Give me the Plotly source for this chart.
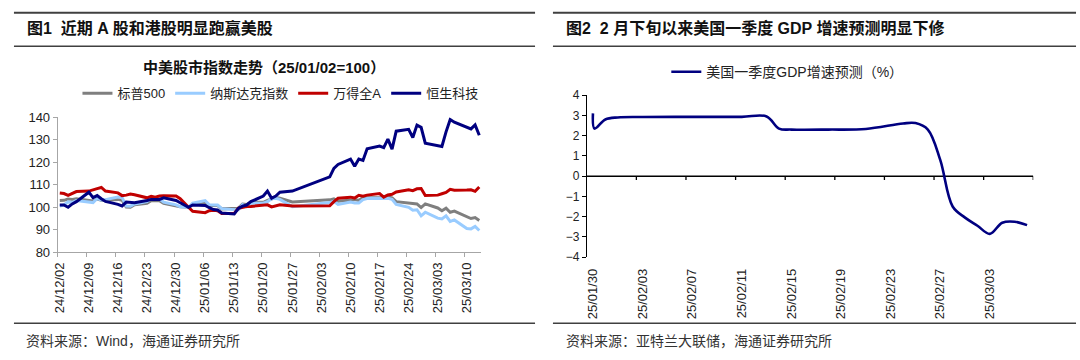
import plotly.graph_objects as go
import pandas as pd

W, H = 1080, 360

# ---------------- data: left chart (A-share trading days) ----------------
trade_dates = [
    "2024-12-02", "2024-12-03", "2024-12-04", "2024-12-05", "2024-12-06",
    "2024-12-09", "2024-12-10", "2024-12-11", "2024-12-12", "2024-12-13",
    "2024-12-16", "2024-12-17", "2024-12-18", "2024-12-19", "2024-12-20",
    "2024-12-23", "2024-12-24", "2024-12-25", "2024-12-26", "2024-12-27",
    "2024-12-30", "2024-12-31",
    "2025-01-02", "2025-01-03", "2025-01-06", "2025-01-07", "2025-01-08",
    "2025-01-09", "2025-01-10", "2025-01-13", "2025-01-14", "2025-01-15",
    "2025-01-16", "2025-01-17", "2025-01-20", "2025-01-21", "2025-01-22",
    "2025-01-23", "2025-01-24", "2025-01-27",
    "2025-02-05", "2025-02-06", "2025-02-07", "2025-02-10", "2025-02-11",
    "2025-02-12", "2025-02-13", "2025-02-14", "2025-02-17", "2025-02-18",
    "2025-02-19", "2025-02-20", "2025-02-21", "2025-02-24", "2025-02-25",
    "2025-02-26", "2025-02-27", "2025-02-28",
    "2025-03-03", "2025-03-04", "2025-03-05", "2025-03-06", "2025-03-07",
    "2025-03-10", "2025-03-11", "2025-03-12", "2025-03-13",
]

spx = [
    103.0, 103.1, 103.7, 103.5, 103.8, 103.1, 102.8, 103.7, 103.1, 103.1,
    103.5, 103.1, 100.1, 100.0, 101.1, 101.8, 102.9, 102.9, 102.9, 101.7,
    100.7, 100.2,
    100.0, 101.3, 101.8, 100.7, 100.8, 100.8, 99.3, 99.4, 99.6, 101.4,
    101.2, 102.2, 102.2, 103.1, 103.7, 104.3, 104.0, 102.4,
    103.3, 103.7, 102.7, 103.4, 103.4, 103.1, 104.2, 104.2, 104.2, 104.4,
    104.7, 104.2, 102.5, 101.9, 101.5, 101.5, 99.9, 101.5,
    99.7, 98.5, 99.6, 97.8, 98.3, 95.7, 95.0, 95.4, 94.1,
]

nasdaq = [
    100.6, 101.0, 102.4, 102.2, 103.0, 102.4, 102.1, 103.9, 103.2, 103.4,
    104.6, 104.3, 100.6, 100.5, 101.5, 102.5, 103.9, 103.9, 103.8, 102.3,
    101.1, 100.2,
    100.0, 101.8, 103.0, 101.1, 101.0, 101.0, 99.4, 99.0, 98.8, 101.2,
    100.3, 101.8, 101.8, 102.5, 103.8, 104.0, 103.5, 100.3,
    102.1, 102.7, 101.3, 102.3, 101.9, 101.9, 103.4, 103.9, 103.9, 103.9,
    104.0, 103.5, 101.3, 100.0, 98.7, 98.9, 96.2, 97.8,
    95.2, 94.8, 96.2, 93.7, 94.4, 90.6, 90.4, 91.5, 89.7,
]

wind_all_a = [
    106.3, 106.1, 105.3, 106.3, 107.0, 107.2, 107.6, 108.3, 108.8, 107.2,
    106.4, 105.2, 105.4, 105.9, 105.6, 104.2, 104.9, 104.5, 105.0, 105.1,
    105.0, 103.8,
    100.0, 98.2, 97.6, 98.5, 98.7, 98.5, 97.2, 97.3, 99.6, 100.0,
    100.3, 100.4, 100.9, 101.1, 100.2, 100.6, 101.1, 100.6,
    100.7, 102.5, 104.0, 104.5, 104.1, 105.3, 104.9, 105.4, 106.1, 104.5,
    105.5, 105.8, 106.8, 107.8, 107.4, 108.2, 108.3, 105.2,
    105.4, 106.0, 106.6, 108.0, 107.6, 107.7, 107.8, 107.1, 109.0,
]

hstech = [
    101.0, 101.0, 100.0, 101.5, 102.5, 106.7, 104.3, 105.2, 103.8, 102.6,
    101.3, 100.6, 102.3, 102.0, 102.0, 103.0, 103.5, 103.5, 103.5, 104.2,
    103.0, 102.0,
    100.0, 101.0, 100.8, 99.8, 99.0, 98.8, 97.5, 97.0, 99.5, 100.5,
    101.0, 102.5, 105.0, 107.2, 104.0, 105.0, 106.7, 107.2,
    113.5, 117.3, 119.0, 121.4, 118.2, 121.4, 120.8, 126.0, 127.2, 126.5,
    130.3, 125.8, 133.8, 134.6, 131.0, 136.5, 135.5, 128.5,
    127.2, 127.0, 133.5, 139.0, 137.8, 135.3, 134.8, 136.6, 132.0,
]

series_names = ["标普500", "纳斯达克指数", "万得全A", "恒生科技"]
left_tick_labels = [
    "24/12/02", "24/12/09", "24/12/16", "24/12/23", "24/12/30",
    "25/01/06", "25/01/13", "25/01/20", "25/01/27", "25/02/03",
    "25/02/10", "25/02/17", "25/02/24", "25/03/03", "25/03/10",
]

# ---------------- data: right chart ----------------
gdp_dates = [
    "2025-01-30 00:00", "2025-01-30 03:00", "2025-01-31", "2025-02-01",
    "2025-02-03", "2025-02-07", "2025-02-11", "2025-02-13", "2025-02-14",
    "2025-02-15", "2025-02-18", "2025-02-21", "2025-02-24", "2025-02-25",
    "2025-02-26", "2025-02-27", "2025-02-28", "2025-03-01", "2025-03-02",
    "2025-03-03", "2025-03-04", "2025-03-05", "2025-03-06",
]
gdp_vals = [
    3.1, 2.35, 2.8, 2.9,
    2.92, 2.93, 2.93, 2.95, 2.35,
    2.3, 2.3, 2.33, 2.6, 2.62,
    2.3, 0.8, -1.5, -2.05, -2.45,
    -2.85, -2.3, -2.25, -2.42,
]
gdp_name = "美国一季度GDP增速预测（%）"
right_tick_labels = [
    "25/01/30", "25/02/03", "25/02/07", "25/02/11", "25/02/15",
    "25/02/19", "25/02/23", "25/02/27", "25/03/03",
]

# ---------------- styling ----------------
FONT = "Liberation Sans, Arial, Noto Sans CJK SC, sans-serif"
TXT = "#222222"
RULE = "#404040"
colors = ["#7F7F7F", "#99CCFF", "#C00000", "#000080"]


def fx(px):
    return px / W


def fy(py):
    return 1 - py / H


half_day = pd.Timedelta(hours=12)
fmt = "%Y-%m-%d %H:%M"
left_tickvals = [
    (pd.to_datetime("20" + t, format="%Y/%m/%d") - half_day).strftime(fmt)
    for t in left_tick_labels
]
left_range = [
    (pd.to_datetime(trade_dates[0]) - half_day).strftime(fmt),
    (pd.to_datetime(trade_dates[-1]) + half_day).strftime(fmt),
]
right_label_pos = [
    pd.to_datetime("20" + t, format="%Y/%m/%d").strftime("%Y-%m-%d") for t in right_tick_labels
]
r_start = pd.to_datetime(right_label_pos[0]) - half_day
r_end = pd.to_datetime(gdp_dates[-1]) + half_day
right_range = [r_start.strftime(fmt), r_end.strftime(fmt)]

left_dom_x = [fx(52), fx(478)]
left_dom_y = [fy(256), fy(115)]
right_dom_x = [fx(584), fx(1033)]
right_dom_y = [fy(261), fy(92)]
y2_range = [-4, 4]
# 4-pixel tick length expressed in y2 units (axis height 169 px)
tick_depth = 4 * (y2_range[1] - y2_range[0]) / 169.0

# category axis on the zero level: line + downward tick marks every 4 days
axis_x, axis_y = [r_start.strftime(fmt), r_end.strftime(fmt), None], [0, 0, None]
t = r_start + pd.Timedelta(days=4)
while t <= r_end:
    axis_x += [t.strftime(fmt), t.strftime(fmt), None]
    axis_y += [0, -tick_depth, None]
    t += pd.Timedelta(days=4)

fig = go.Figure()

for name, vals, col in zip(series_names, [spx, nasdaq, wind_all_a, hstech], colors):
    fig.add_trace(go.Scatter(
        x=trade_dates, y=vals, name=name, mode="lines",
        line=dict(color=col, width=3),
        xaxis="x", yaxis="y", legend="legend",
    ))

fig.add_trace(go.Scatter(
    x=axis_x, y=axis_y, mode="lines", showlegend=False, hoverinfo="skip",
    line=dict(color="#000000", width=1.3), connectgaps=False, cliponaxis=False,
    xaxis="x2", yaxis="y2",
))

fig.add_trace(go.Scatter(
    x=gdp_dates, y=gdp_vals, name=gdp_name, mode="lines",
    line=dict(color="#000080", width=2.6, shape="spline", smoothing=1.0),
    xaxis="x2", yaxis="y2", legend="legend2",
))

fig.update_layout(
    width=W, height=H, autosize=False,
    margin=dict(l=0, r=0, t=0, b=0),
    paper_bgcolor="white", plot_bgcolor="rgba(0,0,0,0)",
    font=dict(family=FONT, size=13, color=TXT),
    showlegend=True,
    xaxis=dict(
        domain=left_dom_x, anchor="y", type="date", range=left_range,
        tickvals=left_tickvals, ticktext=left_tick_labels, tickangle=-90,
        ticklabelshift=2,
        ticks="outside", ticklen=4, tickcolor="#A6A6A6",
        showline=True, linecolor="#A6A6A6", linewidth=1,
        showgrid=False, zeroline=False, tickfont=dict(size=13, color=TXT),
    ),
    yaxis=dict(
        domain=left_dom_y, anchor="x", range=[80, 140], dtick=10,
        ticks="outside", ticklen=4, tickcolor="#A6A6A6",
        showline=True, linecolor="#A6A6A6", linewidth=1,
        showgrid=False, zeroline=False, tickfont=dict(size=13, color=TXT),
    ),
    xaxis2=dict(
        domain=right_dom_x, anchor="y2", type="date", range=right_range,
        tickvals=right_label_pos, ticktext=right_tick_labels, tickangle=-90,
        ticks="", showline=False, showgrid=False, zeroline=False,
        ticklabelstandoff=8,
        tickfont=dict(size=13, color=TXT),
    ),
    yaxis2=dict(
        domain=right_dom_y, anchor="x2", range=y2_range, dtick=1,
        ticks="outside", ticklen=4, tickcolor="black",
        showline=True, linecolor="black", linewidth=1,
        showgrid=False, zeroline=True, zerolinecolor="#000000", zerolinewidth=1.3,
        tickfont=dict(size=12, color=TXT),
    ),
    legend=dict(
        orientation="h", x=fx(276), xanchor="center", y=fy(90), yanchor="middle",
        font=dict(size=13, color=TXT), bgcolor="rgba(0,0,0,0)", traceorder="normal",
    ),
    legend2=dict(
        orientation="h", x=fx(664), xanchor="left", y=fy(68), yanchor="middle",
        font=dict(size=14, color=TXT), bgcolor="rgba(0,0,0,0)",
    ),
)

shapes = []
# header / footer rules
for x0, x1 in [(8, 532), (550, 1076)]:
    shapes.append(dict(type="line", xref="paper", yref="paper", x0=fx(x0), x1=fx(x1),
                       y0=fy(6), y1=fy(6), line=dict(color=RULE, width=2)))
    shapes.append(dict(type="line", xref="paper", yref="paper", x0=fx(x0), x1=fx(x1),
                       y0=fy(41), y1=fy(41), line=dict(color=RULE, width=1.5)))
    shapes.append(dict(type="line", xref="paper", yref="paper", x0=fx(x0), x1=fx(x1),
                       y0=fy(330), y1=fy(330), line=dict(color=RULE, width=1.5)))
fig.update_layout(shapes=shapes)

annotations = [
    dict(text="<b>图1  近期 A 股和港股明显跑赢美股</b>", x=fx(19), y=fy(22),
         xanchor="left", yanchor="middle", font=dict(size=16, color="#111111")),
    dict(text="<b>图2  2 月下旬以来美国一季度 GDP 增速预测明显下修</b>", x=fx(561), y=fy(22),
         xanchor="left", yanchor="middle", font=dict(size=16, color="#111111")),
    dict(text="<b>中美股市指数走势（25/01/02=100）</b>", x=fx(259), y=fy(63),
         xanchor="center", yanchor="middle", font=dict(size=15, color="#111111")),
    dict(text="资料来源：Wind，海通证券研究所", x=fx(18), y=fy(349),
         xanchor="left", yanchor="middle", font=dict(size=14, color="#333333")),
    dict(text="资料来源：亚特兰大联储，海通证券研究所", x=fx(561), y=fy(349),
         xanchor="left", yanchor="middle", font=dict(size=14, color="#333333")),
]
for a in annotations:
    a.update(xref="paper", yref="paper", showarrow=False)
fig.update_layout(annotations=annotations)

fig.write_html(
    "out.html",
    config={"displayModeBar": False},
    post_script="document.body.style.margin='0';",
)
